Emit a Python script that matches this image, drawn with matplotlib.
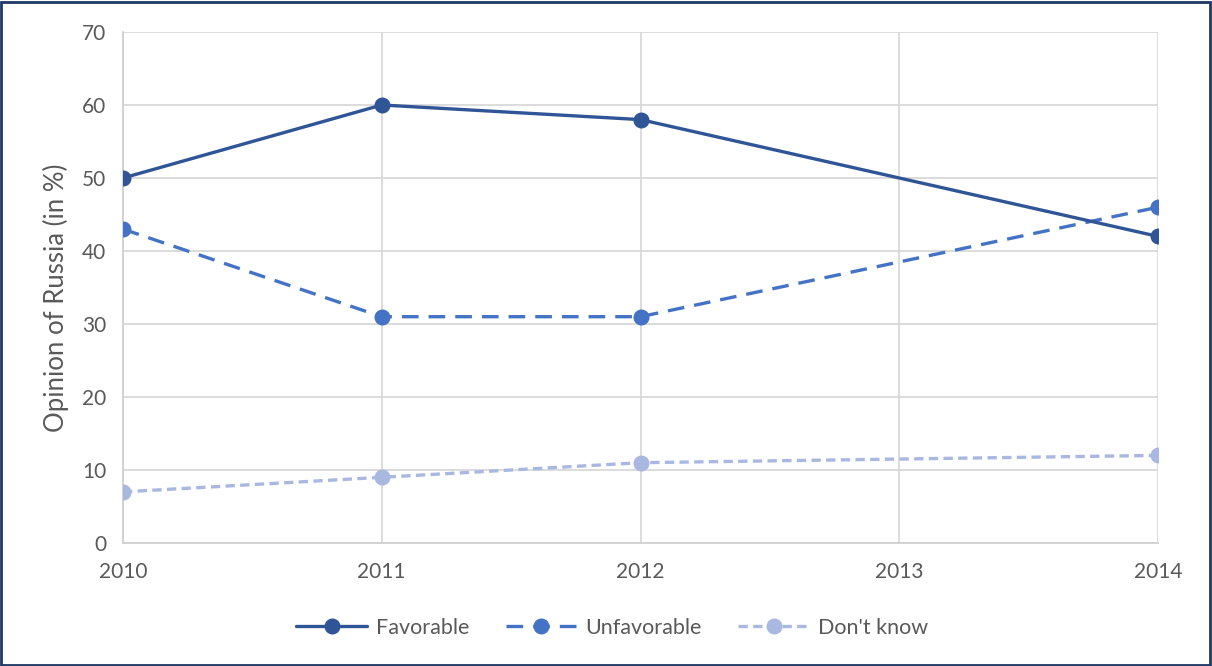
import matplotlib
matplotlib.use("Agg")
import matplotlib.pyplot as plt
from matplotlib.patches import Rectangle

plt.rcParams['font.family'] = ['Lato', 'DejaVu Sans']

years = [2010, 2011, 2012, 2014]
favorable = [50, 60, 58, 42]
unfavorable = [43, 31, 31, 46]
dont_know = [7, 9, 11, 12]
x_ticks = [2010, 2011, 2012, 2013, 2014]
y_ticks = [0, 10, 20, 30, 40, 50, 60, 70]

fig = plt.figure(figsize=(12.12, 6.66), dpi=100)
ax = fig.add_axes([123 / 1212, 1 - 543 / 666, (1158 - 123) / 1212, (543 - 32) / 666])

lw = 2.4
ax.plot(years, favorable, color='#2F5597', lw=lw, marker='o', ms=10.5,
        label='Favorable', solid_capstyle='round', zorder=5)
ax.plot(years, unfavorable, color='#4472C4', lw=lw, marker='o', ms=10.5,
        dashes=(5, 3), label='Unfavorable', zorder=4)
ax.plot(years, dont_know, color='#A9B8E0', lw=lw, marker='o', ms=10.5,
        dashes=(2.8, 1.6), label="Don't know", zorder=3)

ax.set_xlim(2010, 2014)
ax.set_ylim(0, 70)
ax.set_xticks(x_ticks)
ax.set_yticks(y_ticks)
ax.grid(True, color='#D9D9D9', lw=1.3)
ax.set_axisbelow(True)
for side in ['top', 'right']:
    ax.spines[side].set_visible(False)
for side in ['left', 'bottom']:
    ax.spines[side].set_color('#D0D0D0')
    ax.spines[side].set_linewidth(1.3)
ax.tick_params(length=0, labelsize=15, colors='#595959', pad=12)
ax.tick_params(axis='x', pad=14)
ax.set_ylabel('Opinion of Russia (in %)', fontsize=18.5, color='#595959')
ax.yaxis.set_label_coords(-0.052, 0.48)

ax.legend(loc='center', bbox_to_anchor=(0.505, 1 - 628 / 666), bbox_transform=fig.transFigure,
          ncol=3, frameon=False, fontsize=15.5, labelcolor='#595959',
          handlelength=3.3, columnspacing=1.7, handletextpad=0.4)

fig.add_artist(Rectangle((0.001, 0.002), 0.997, 0.995, transform=fig.transFigure,
                         fill=False, edgecolor='#1F3864', lw=2))

fig.savefig('out.png', dpi=100)
